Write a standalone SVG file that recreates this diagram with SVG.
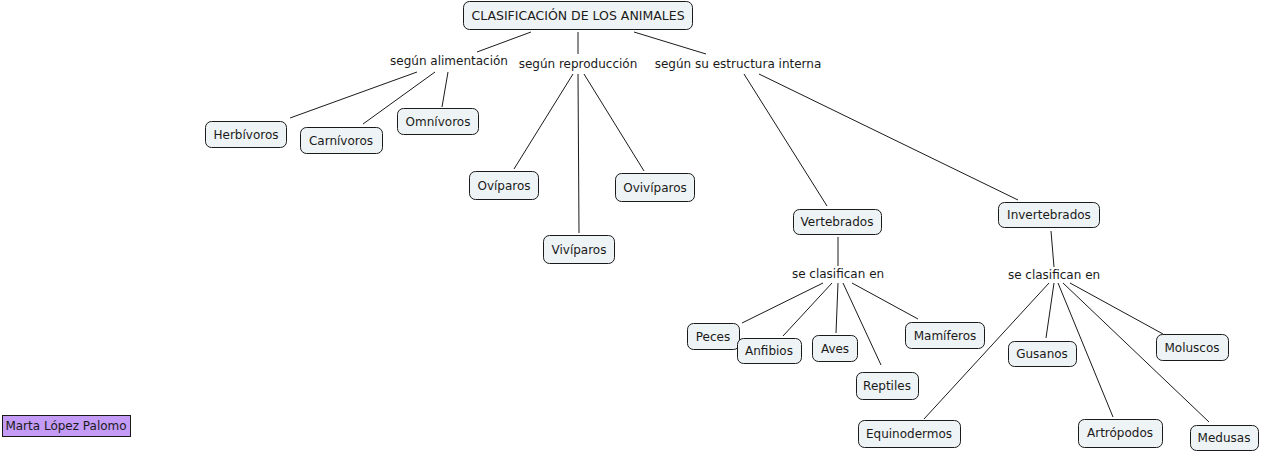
<svg xmlns="http://www.w3.org/2000/svg" width="1261" height="452" viewBox="0 0 1261 452">
<style>
.n rect{fill:#eef3f5;stroke:#1a1a1a;stroke-width:1}
text{font-family:"DejaVu Sans","Liberation Sans",sans-serif;font-size:12px;fill:#1a1a1a;text-anchor:middle}
.c line{stroke:#1a1a1a;stroke-width:1}
</style>
<rect width="1261" height="452" fill="#ffffff"/>
<g class="c">
<line x1="531" y1="32" x2="477" y2="52"/>
<line x1="578" y1="32" x2="578" y2="54"/>
<line x1="634" y1="32" x2="706" y2="54"/>
<line x1="417" y1="72" x2="290" y2="118"/>
<line x1="435" y1="72" x2="363" y2="124"/>
<line x1="448" y1="72" x2="442" y2="107"/>
<line x1="573" y1="74" x2="514" y2="169"/>
<line x1="578" y1="74" x2="579" y2="233"/>
<line x1="584" y1="74" x2="644" y2="171"/>
<line x1="744" y1="74" x2="827" y2="206"/>
<line x1="759" y1="74" x2="1018" y2="200"/>
<line x1="838" y1="237" x2="838" y2="266"/>
<line x1="823" y1="283" x2="742" y2="323"/>
<line x1="832" y1="283" x2="783" y2="336"/>
<line x1="838" y1="283" x2="836" y2="333"/>
<line x1="843" y1="283" x2="881" y2="365"/>
<line x1="852" y1="283" x2="918" y2="319"/>
<line x1="1051" y1="231" x2="1054" y2="267"/>
<line x1="1049" y1="283" x2="924" y2="419"/>
<line x1="1054" y1="283" x2="1046" y2="338"/>
<line x1="1058" y1="283" x2="1113" y2="417"/>
<line x1="1063" y1="283" x2="1209" y2="422"/>
<line x1="1070" y1="283" x2="1163" y2="334"/>
</g>
<g id="lbl-alimentacion"><text x="449" y="65">según alimentación</text></g>
<g id="lbl-reproduccion"><text x="578" y="68">según reproducción</text></g>
<g id="lbl-estructura"><text x="738" y="68">según su estructura interna</text></g>
<g id="lbl-vert-clas"><text x="838" y="278">se clasifican en</text></g>
<g id="lbl-invert-clas"><text x="1054" y="279">se clasifican en</text></g>
<g id="title" class="n"><rect x="463.5" y="1.5" width="229" height="28" rx="6"/><text x="578" y="20" style="font-size:12.5px">CLASIFICACIÓN DE LOS ANIMALES</text></g>
<g id="herbivoros" class="n"><rect x="205.5" y="121.5" width="81" height="26" rx="6"/><text x="246" y="139">Herbívoros</text></g>
<g id="carnivoros" class="n"><rect x="300.5" y="127.5" width="82" height="26" rx="6"/><text x="341" y="145">Carnívoros</text></g>
<g id="omnivoros" class="n"><rect x="397.5" y="108.5" width="81" height="26" rx="6"/><text x="438" y="126">Omnívoros</text></g>
<g id="oviparos" class="n"><rect x="469.5" y="171.5" width="69" height="28" rx="6"/><text x="504" y="190">Ovíparos</text></g>
<g id="oviviparos" class="n"><rect x="615.5" y="173.5" width="79" height="28" rx="6"/><text x="655" y="192">Ovivíparos</text></g>
<g id="viviparos" class="n"><rect x="543.5" y="235.5" width="71" height="28" rx="6"/><text x="579" y="254">Vivíparos</text></g>
<g id="vertebrados" class="n"><rect x="793.5" y="209.5" width="88" height="25" rx="6"/><text x="837" y="226">Vertebrados</text></g>
<g id="invertebrados" class="n"><rect x="998.5" y="202.5" width="101" height="25" rx="6"/><text x="1049" y="219">Invertebrados</text></g>
<g id="peces" class="n"><rect x="687.5" y="323.5" width="52" height="26" rx="6"/><text x="713" y="341">Peces</text></g>
<g id="anfibios" class="n"><rect x="737.5" y="338.5" width="64" height="25" rx="6"/><text x="769" y="355">Anfibios</text></g>
<g id="aves" class="n"><rect x="812.5" y="335.5" width="45" height="26" rx="6"/><text x="835" y="353">Aves</text></g>
<g id="reptiles" class="n"><rect x="856.5" y="372.5" width="62" height="27" rx="6"/><text x="887" y="390">Reptiles</text></g>
<g id="mamiferos" class="n"><rect x="905.5" y="322.5" width="79" height="26" rx="6"/><text x="945" y="340">Mamíferos</text></g>
<g id="gusanos" class="n"><rect x="1008.5" y="341.5" width="68" height="25" rx="6"/><text x="1042" y="358">Gusanos</text></g>
<g id="moluscos" class="n"><rect x="1156.5" y="334.5" width="72" height="26" rx="6"/><text x="1192" y="352">Moluscos</text></g>
<g id="equinodermos" class="n"><rect x="858.5" y="420.5" width="102" height="27" rx="6"/><text x="909" y="438">Equinodermos</text></g>
<g id="artropodos" class="n"><rect x="1078.5" y="419.5" width="84" height="28" rx="6"/><text x="1120" y="437">Artrópodos</text></g>
<g id="medusas" class="n"><rect x="1190.5" y="425.5" width="68" height="25" rx="6"/><text x="1224" y="442">Medusas</text></g>
<g id="author"><rect x="2.5" y="415.5" width="128" height="21" fill="#c49cf7" stroke="#1a1a1a"/><text x="66" y="430">Marta López Palomo</text></g>
</svg>
